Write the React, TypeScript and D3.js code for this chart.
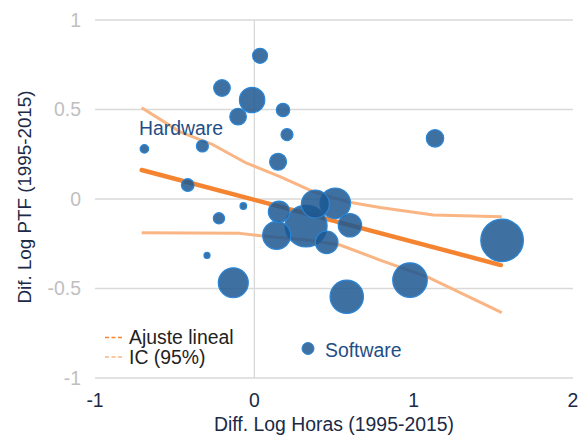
import React from "react";
import * as d3 from "d3";

const W = 581;
const H = 437;

// Bubble data
const bubbleX = [0.036, -0.203, -0.014, -0.102, 0.18, 0.205, -0.69, -0.326, 0.149, -0.418, -0.069, -0.222, -0.297, -0.132, 0.155, 0.14, 0.325, 0.383, 0.508, 0.454, 0.6, 0.58, 1.555, 0.977, 1.134];
const bubbleY = [0.8, 0.62, 0.553, 0.46, 0.497, 0.36, 0.28, 0.296, 0.208, 0.078, -0.039, -0.108, -0.315, -0.468, -0.071, -0.203, -0.151, -0.028, -0.024, -0.242, -0.147, -0.546, -0.231, -0.453, 0.339];
const bubbleSize = [56, 69, 161, 69, 45, 36, 18, 36, 72, 40, 11, 32, 9, 225, 114, 196, 441, 196, 234, 128, 137, 279, 454, 299, 76];

// Linear fit
const fitX = [-0.707, 1.547];
const fitY = [0.162, -0.369];

// Confidence interval
const upperX = [-0.707, -0.466, -0.257, -0.048, 0.161, 0.37, 0.58, 0.789, 1.124, 1.553];
const upperY = [0.51, 0.375, 0.302, 0.2, 0.125, 0.041, -0.015, -0.047, -0.089, -0.099];
const lowerX = [-0.707, -0.09, 0.057, 0.35, 0.538, 0.789, 1.082, 1.553];
const lowerY = [-0.188, -0.192, -0.207, -0.23, -0.257, -0.341, -0.434, -0.635];

const xTicks = [-1, 0, 1, 2];
const yTicks = [-1, -0.5, 0, 0.5, 1];

const FONT = "'Liberation Sans', Arial, sans-serif";
const FS = 19.4;

export default function App() {
  const x = d3.scaleLinear().domain([-1, 2]).range([95, 573]);
  const y = d3.scaleLinear().domain([-1, 1]).range([378, 20]);
  const r = d3.scaleSqrt().domain([0, 454]).range([0, 21.3]);

  const line = d3
    .line<[number, number]>()
    .x((d) => x(d[0]))
    .y((d) => y(d[1]));

  const fitPts = fitX.map((v, i) => [v, fitY[i]] as [number, number]);
  const upPts = upperX.map((v, i) => [v, upperY[i]] as [number, number]);
  const loPts = lowerX.map((v, i) => [v, lowerY[i]] as [number, number]);

  const bubbles = bubbleX
    .map((v, i) => ({ x: v, y: bubbleY[i], s: bubbleSize[i] }))
    .sort((a, b) => b.s - a.s);

  return (
    <svg
      width={W}
      height={H}
      style={{ position: "absolute", left: 0, top: 0, background: "#fff" }}
      fontFamily={FONT}
    >
      {yTicks.map((t) => (
        <g key={"y" + t}>
          <line x1={95} x2={573} y1={y(t)} y2={y(t)} stroke="#d9d9d9" strokeWidth={1.3} />
          <text x={81} y={y(t)} dy="0.35em" textAnchor="end" fill="#bfbfbf" fontSize={FS}>
            {t}
          </text>
        </g>
      ))}
      <line x1={x(0)} x2={x(0)} y1={20} y2={378} stroke="#d9d9d9" strokeWidth={1.3} />
      {xTicks.map((t) => (
        <text key={"x" + t} x={x(t)} y={407} textAnchor="middle" fill="#1b2a47" fontSize={FS}>
          {t}
        </text>
      ))}
      <text x={334} y={431} textAnchor="middle" fill="#1b2a47" fontSize={FS}>
        Diff. Log Horas (1995-2015)
      </text>
      <text
        transform={`translate(31,${197}) rotate(-90)`}
        textAnchor="middle"
        fill="#1b2a47"
        fontSize={18.8}
      >
        Dif. Log PTF (1995-2015)
      </text>

      <path d={line(upPts) || ""} fill="none" stroke="#f9b583" strokeWidth={3} strokeLinejoin="round" />
      <path d={line(loPts) || ""} fill="none" stroke="#f9b583" strokeWidth={3} strokeLinejoin="round" />
      <path d={line(fitPts) || ""} fill="none" stroke="#f58431" strokeWidth={4.5} strokeLinecap="round" />

      {bubbles.map((b, i) => (
        <circle
          key={i}
          cx={x(b.x)}
          cy={y(b.y)}
          r={r(b.s)}
          fill="#1c5792"
          fillOpacity={0.85}
          stroke="#2a86d6"
          strokeWidth={1.2}
        />
      ))}

      <text x={139} y={135} fill="#1f4e85" fontSize={FS}>
        Hardware
      </text>
      <circle cx={308} cy={348.5} r={6} fill="#1c5792" fillOpacity={0.85} stroke="#2a86d6" strokeWidth={1} />
      <text x={325} y={357} fill="#1f4e85" fontSize={FS}>
        Software
      </text>

      <line x1={105} x2={124} y1={337.5} y2={337.5} stroke="#f58431" strokeWidth={1.5} strokeDasharray="4,2.5" />
      <text x={129} y={343.5} fill="#222" fontSize={FS}>
        Ajuste lineal
      </text>
      <line x1={105} x2={124} y1={357} y2={357} stroke="#f9b583" strokeWidth={1.5} strokeDasharray="4,2.5" />
      <text x={129} y={363.5} fill="#222" fontSize={FS}>
        IC (95%)
      </text>
    </svg>
  );
}
